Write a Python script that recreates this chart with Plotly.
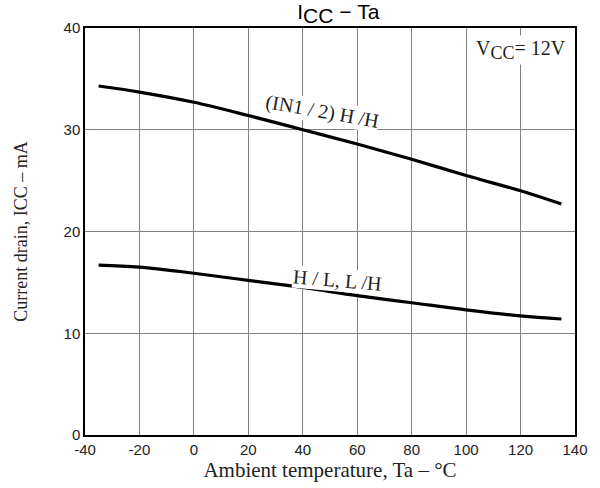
import plotly.graph_objects as go

temps = [-35, -20, 0, 20, 40, 60, 80, 100, 120, 135]
icc_hh = [34.3, 33.7, 32.7, 31.4, 30.0, 28.6, 27.1, 25.5, 24.0, 22.7]
icc_hl = [16.7, 16.5, 15.9, 15.2, 14.5, 13.7, 13.0, 12.3, 11.7, 11.4]
x_ticks = [-40, -20, 0, 20, 40, 60, 80, 100, 120, 140]
x_tick_text = ["-40", "-20", "0", "20", "40", "60", "80", "100", "120", "140"]
y_ticks = [0, 10, 20, 30, 40]

serif = "Liberation Serif"
sans = "Liberation Sans"

fig = go.Figure()
for ys in (icc_hh, icc_hl):
    fig.add_trace(go.Scatter(x=temps, y=ys, mode="lines",
                             line=dict(color="black", width=3.2, shape="spline"),
                             showlegend=False, hoverinfo="skip"))

fig.add_annotation(x=47, y=31.75, text="(IN1 / 2) H /H", showarrow=False, textangle=10,
                   font=dict(family=serif, size=20, color="#222"),
                   bgcolor="white", borderpad=0)
fig.add_annotation(x=52.6, y=15.25, text="H / L, L /H", showarrow=False, textangle=5,
                   font=dict(family=serif, size=20, color="#222"),
                   bgcolor="white", borderpad=0)
fig.add_annotation(x=120, y=37.85,
                   text="V<sub><span style='font-size:18px'>CC</span></sub>= 12V",
                   showarrow=False,
                   font=dict(family=serif, size=20, color="#222"),
                   bgcolor="white", borderpad=1)

fig.update_layout(
    width=600, height=488,
    margin=dict(l=85, r=23, t=28, b=53),
    paper_bgcolor="white", plot_bgcolor="white",
    title=dict(text="I<sub><span style='font-size:21px'>CC</span></sub>\u00a0\u2212\u00a0Ta",
               x=0.564, xanchor="center",
               xref="container", yref="container", y=0.992, yanchor="top",
               font=dict(family=sans, size=21, color="black")),
    xaxis=dict(range=[-40, 140], tickvals=x_ticks, ticktext=x_tick_text, ticks="",
               showgrid=True, gridcolor="#808080", gridwidth=1, zeroline=False,
               showline=True, linecolor="black", linewidth=1.5, mirror=True,
               tickfont=dict(family=sans, size=15, color="#222"),
               title=dict(text="Ambient temperature, Ta – °C", standoff=2,
                          font=dict(family=serif, size=21, color="#222"))),
    yaxis=dict(range=[0, 40], tickvals=y_ticks, ticks="",
               showgrid=True, gridcolor="#808080", gridwidth=1, zeroline=False,
               showline=True, linecolor="black", linewidth=1.5, mirror=True,
               tickfont=dict(family=sans, size=15, color="#222"),
               title=dict(text="Current drain, ICC – mA", standoff=31,
                          font=dict(family=serif, size=18, color="#222"))),
)

fig.write_html("out.html", config={"displayModeBar": False},
               post_script="document.body.style.margin='0';")
